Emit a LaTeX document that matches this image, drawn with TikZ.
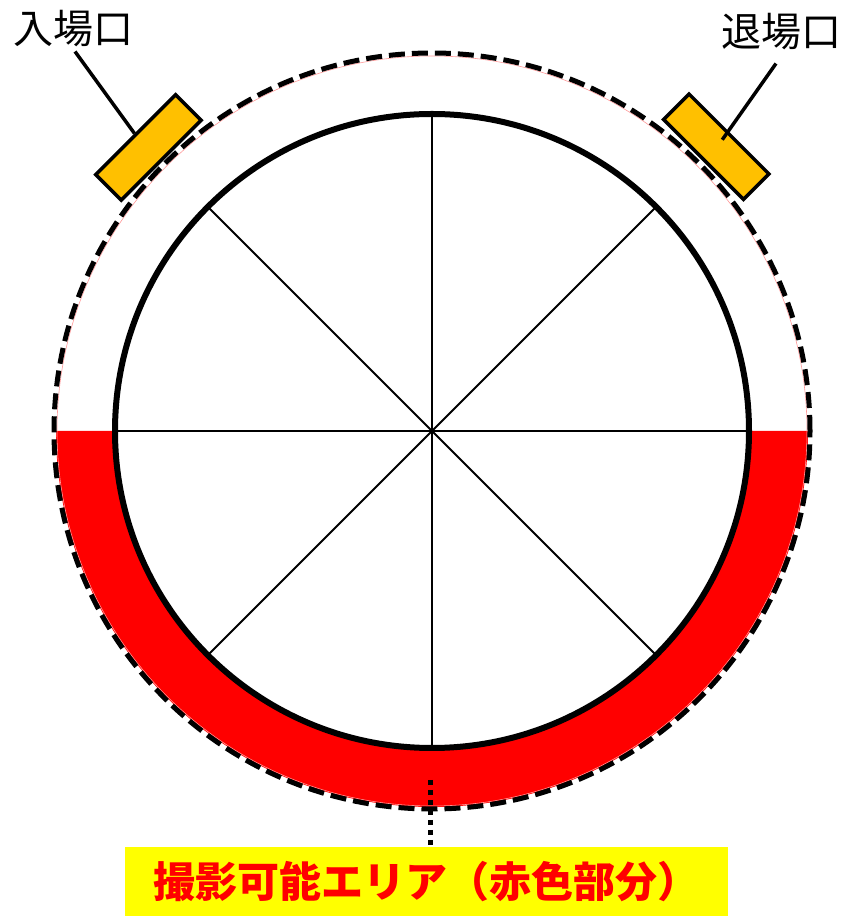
\documentclass[tikz,border=0pt]{standalone}
\usepackage{fontspec}
\newfontfamily\cjk{Noto Sans CJK JP}
\usetikzlibrary{calc}
\definecolor{gateorange}{HTML}{FFC000}
\definecolor{areared}{HTML}{FF0000}
\definecolor{labelyellow}{HTML}{FFFF00}
\begin{document}
\begin{tikzpicture}[x=1pt,y=1pt,
  gate/.style={draw=black, line width=3.5pt, fill=gateorange, minimum width=113pt, minimum height=36pt, inner sep=0pt},
  leader/.style={line width=3.5pt},
  spoke/.style={line width=2pt},
  outerring/.style={line width=5pt, dash pattern=on 16pt off 7pt},
  innerring/.style={line width=6pt},
  gatelabel/.style={font=\cjk\fontsize{40}{42}\selectfont, inner sep=0pt},
  areabox/.style={fill=labelyellow, minimum width=603pt, minimum height=69pt, inner sep=0pt, text=areared, font=\cjk\bfseries\fontsize{42}{44}\selectfont},
  dotline/.style={line width=5pt, dash pattern=on 5pt off 5pt}]
\useasboundingbox (0,0) rectangle (845,916);
\coordinate (c) at (432,485);
% red photographable area (lower half of ring)
\fill[areared] ($(c)+(180:376)$) arc[start angle=180,end angle=360,radius=376]
  -- ($(c)+(0:317)$) arc[start angle=0,end angle=-180,radius=317] -- cycle;
\draw[areared!40, line width=0.6pt] (c) circle[radius=375];
\draw[outerring] (c) circle[radius=378];
% spokes
\foreach \a in {0,45,...,315} {
  \draw[spoke] (c) -- ($(c)+(\a:317)$);
}
\draw[innerring] (c) circle[radius=317];
% gates
\node[gate, rotate=45] (g1) at ($(c)+(135:401)$) {};
\node[gate, rotate=-45] (g2) at ($(c)+(45:402)$) {};
\node[gatelabel] (l1) at (73,887) {入場口};
\node[gatelabel] (l2) at (781,884) {退場口};
\draw[leader] (l1.south) ++(2,-4) coordinate (l1s) -- (g1.north);
\coordinate (g2p) at ($(g2.center)+(6,7)$);
\draw[leader] ($(l2.south)+(-5,-13)$) coordinate (l2s) -- (g2p);
% label box
\node[areabox] (box) at (426.5,34.5) {撮影可能エリア（赤色部分）};
\coordinate (d) at (430,136);
\draw[dotline] (d) -- (box.north -| d);
\end{tikzpicture}
\end{document}
